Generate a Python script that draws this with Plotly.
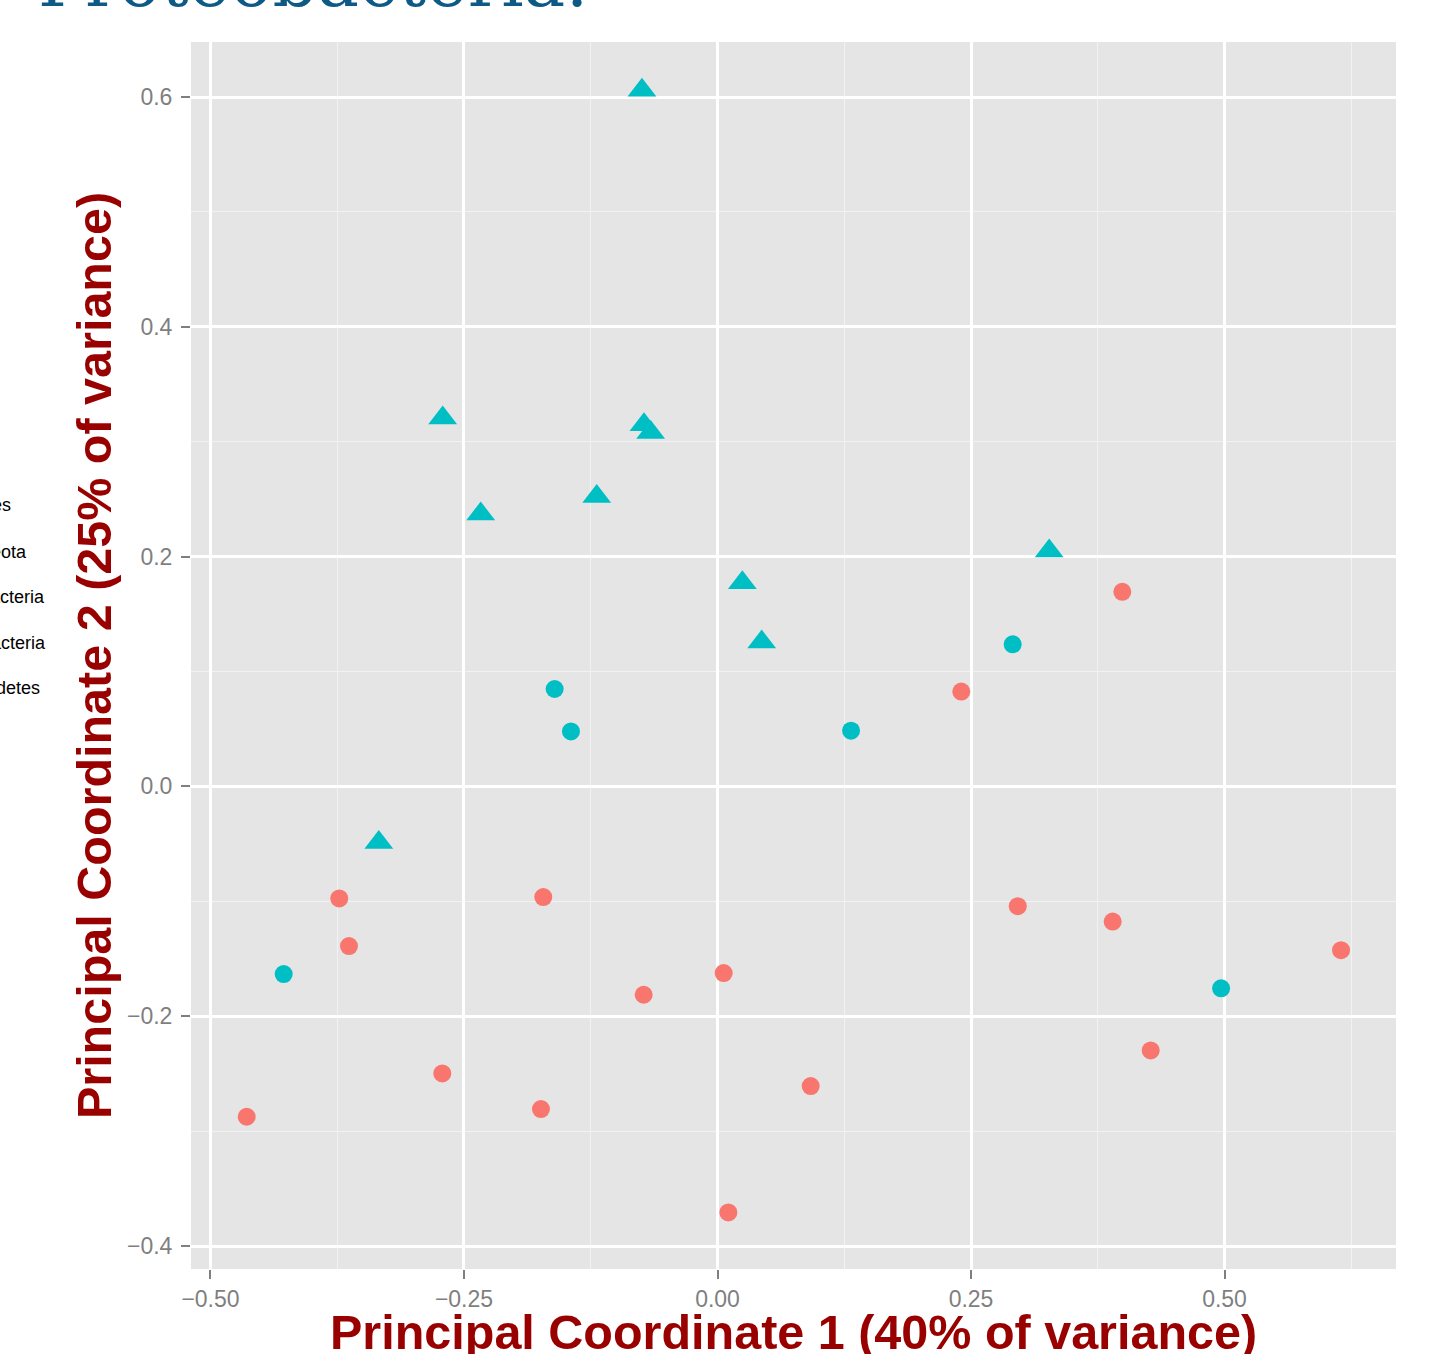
import plotly.graph_objects as go

# ---- data ----
tri_cyan_x = [-0.0745, -0.2710, -0.0725, -0.0659, -0.2335, -0.1191, 0.0245, 0.0436, 0.3271, -0.3340]
tri_cyan_y = [0.6059, 0.3206, 0.3148, 0.3081, 0.2371, 0.2524, 0.1772, 0.1257, 0.2048, -0.0488]

circ_cyan_x = [-0.1606, -0.1445, 0.1317, 0.2911, -0.4278, 0.4966]
circ_cyan_y = [0.0848, 0.0479, 0.0485, 0.1237, -0.1633, -0.1757]

circ_red_x = [0.3992, 0.2404, -0.3730, -0.3634, -0.1718, 0.2961, 0.3897, 0.6149,
              0.0061, -0.0728, 0.4272, -0.2714, 0.0919, -0.1741, -0.4643, 0.0107]
circ_red_y = [0.1694, 0.0826, -0.0975, -0.1389, -0.0963, -0.1042, -0.1176, -0.1425,
              -0.1624, -0.1813, -0.2298, -0.2498, -0.2608, -0.2808, -0.2875, -0.3708]

x_ticks = [-0.50, -0.25, 0.00, 0.25, 0.50]
y_ticks = [-0.4, -0.2, 0.0, 0.2, 0.4, 0.6]

legend_labels = ["Firmicutes", "Euryarchaeota", "Actinobacteria", "Proteobacteria", "Bacteroidetes"]

title_text = "Proteobacteria:"
x_title = "Principal Coordinate 1 (40% of variance)"
y_title = "Principal Coordinate 2 (25% of variance)"

RED = "#F8766D"
CYAN = "#00BFC4"

W, H = 1431, 1354
L, R, T, B = 191, 35, 42, 85
pw, ph = W - L - R, H - T - B

fig = go.Figure()
fig.add_trace(go.Scatter(x=circ_red_x, y=circ_red_y, mode="markers", name="red circles",
                         marker=dict(symbol="circle", size=18, color=RED, line=dict(width=0))))
fig.add_trace(go.Scatter(x=circ_cyan_x, y=circ_cyan_y, mode="markers", name="cyan circles",
                         marker=dict(symbol="circle", size=18, color=CYAN, line=dict(width=0))))
fig.add_trace(go.Scatter(x=tri_cyan_x, y=tri_cyan_y, mode="markers", name="cyan triangles",
                         marker=dict(symbol="triangle-up", size=25, color=CYAN, line=dict(width=0))))

SANS = "Liberation Sans, Arial, sans-serif"
axis_common = dict(
    showgrid=True, gridcolor="white", gridwidth=2.6,
    zeroline=False, showline=False,
    ticks="outside", ticklen=9, tickwidth=2, tickcolor="#7f7f7f",
    tickfont=dict(family=SANS, size=23, color="#7f7f7f"),
)

fig.update_xaxes(
    **axis_common,
    range=[-0.5192, 0.6691],
    tickvals=x_ticks, tickformat=".2f",
    minor=dict(dtick=0.25, tick0=0.125, showgrid=True, gridcolor="#F2F2F2", gridwidth=1.3, ticks=""),
)
fig.update_yaxes(
    **axis_common,
    range=[-0.4200, 0.6479],
    tickvals=y_ticks, tickformat=".1f",
    ticklabelstandoff=4,
    minor=dict(dtick=0.2, tick0=0.1, showgrid=True, gridcolor="#F2F2F2", gridwidth=1.3, ticks=""),
    title=dict(text="<b>" + y_title + "</b>", standoff=0,
               font=dict(family=SANS, size=48.5, color="#990000")),
)

annotations = []
# x-axis title (placed as an annotation so it may run past the bottom edge, as in the reference)
annotations.append(dict(
    text="<b>" + x_title + "</b>", xref="paper", yref="paper",
    x=0.5, y=(H - B - 1332) / ph,
    xanchor="center", yanchor="middle", showarrow=False, borderpad=0,
    font=dict(family=SANS, size=48.5, color="#990000"),
))

# cropped legend labels on the far left (only their endings are visible)
leg_end_px = [11.5, 28, 45.5, 46.5, 40.5]
leg_mid_px = [505, 551.5, 597, 643, 688]
for lab, ex, ey in zip(legend_labels, leg_end_px, leg_mid_px):
    annotations.append(dict(
        text=lab, xref="paper", yref="paper",
        x=(ex - L) / pw, y=(H - B - ey) / ph,
        xanchor="right", yanchor="middle", showarrow=False, borderpad=0,
        font=dict(family=SANS, size=18, color="black"),
    ))

# slide title, mostly cropped at the top
annotations.append(dict(
    text=title_text, xref="paper", yref="paper",
    x=(37 - L) / pw, y=(H - B + 18) / ph,
    xanchor="left", yanchor="middle", showarrow=False, borderpad=0,
    font=dict(family="DejaVu Serif, serif", size=70, color="#0E5A86"),
))

fig.update_layout(
    width=W, height=H,
    margin=dict(l=L, r=R, t=T, b=B, autoexpand=False),
    paper_bgcolor="white", plot_bgcolor="#E5E5E5",
    showlegend=False,
    annotations=annotations,
)

fig.write_html("out.html", config={"displayModeBar": False},
               post_script="document.body.style.margin='0';")
